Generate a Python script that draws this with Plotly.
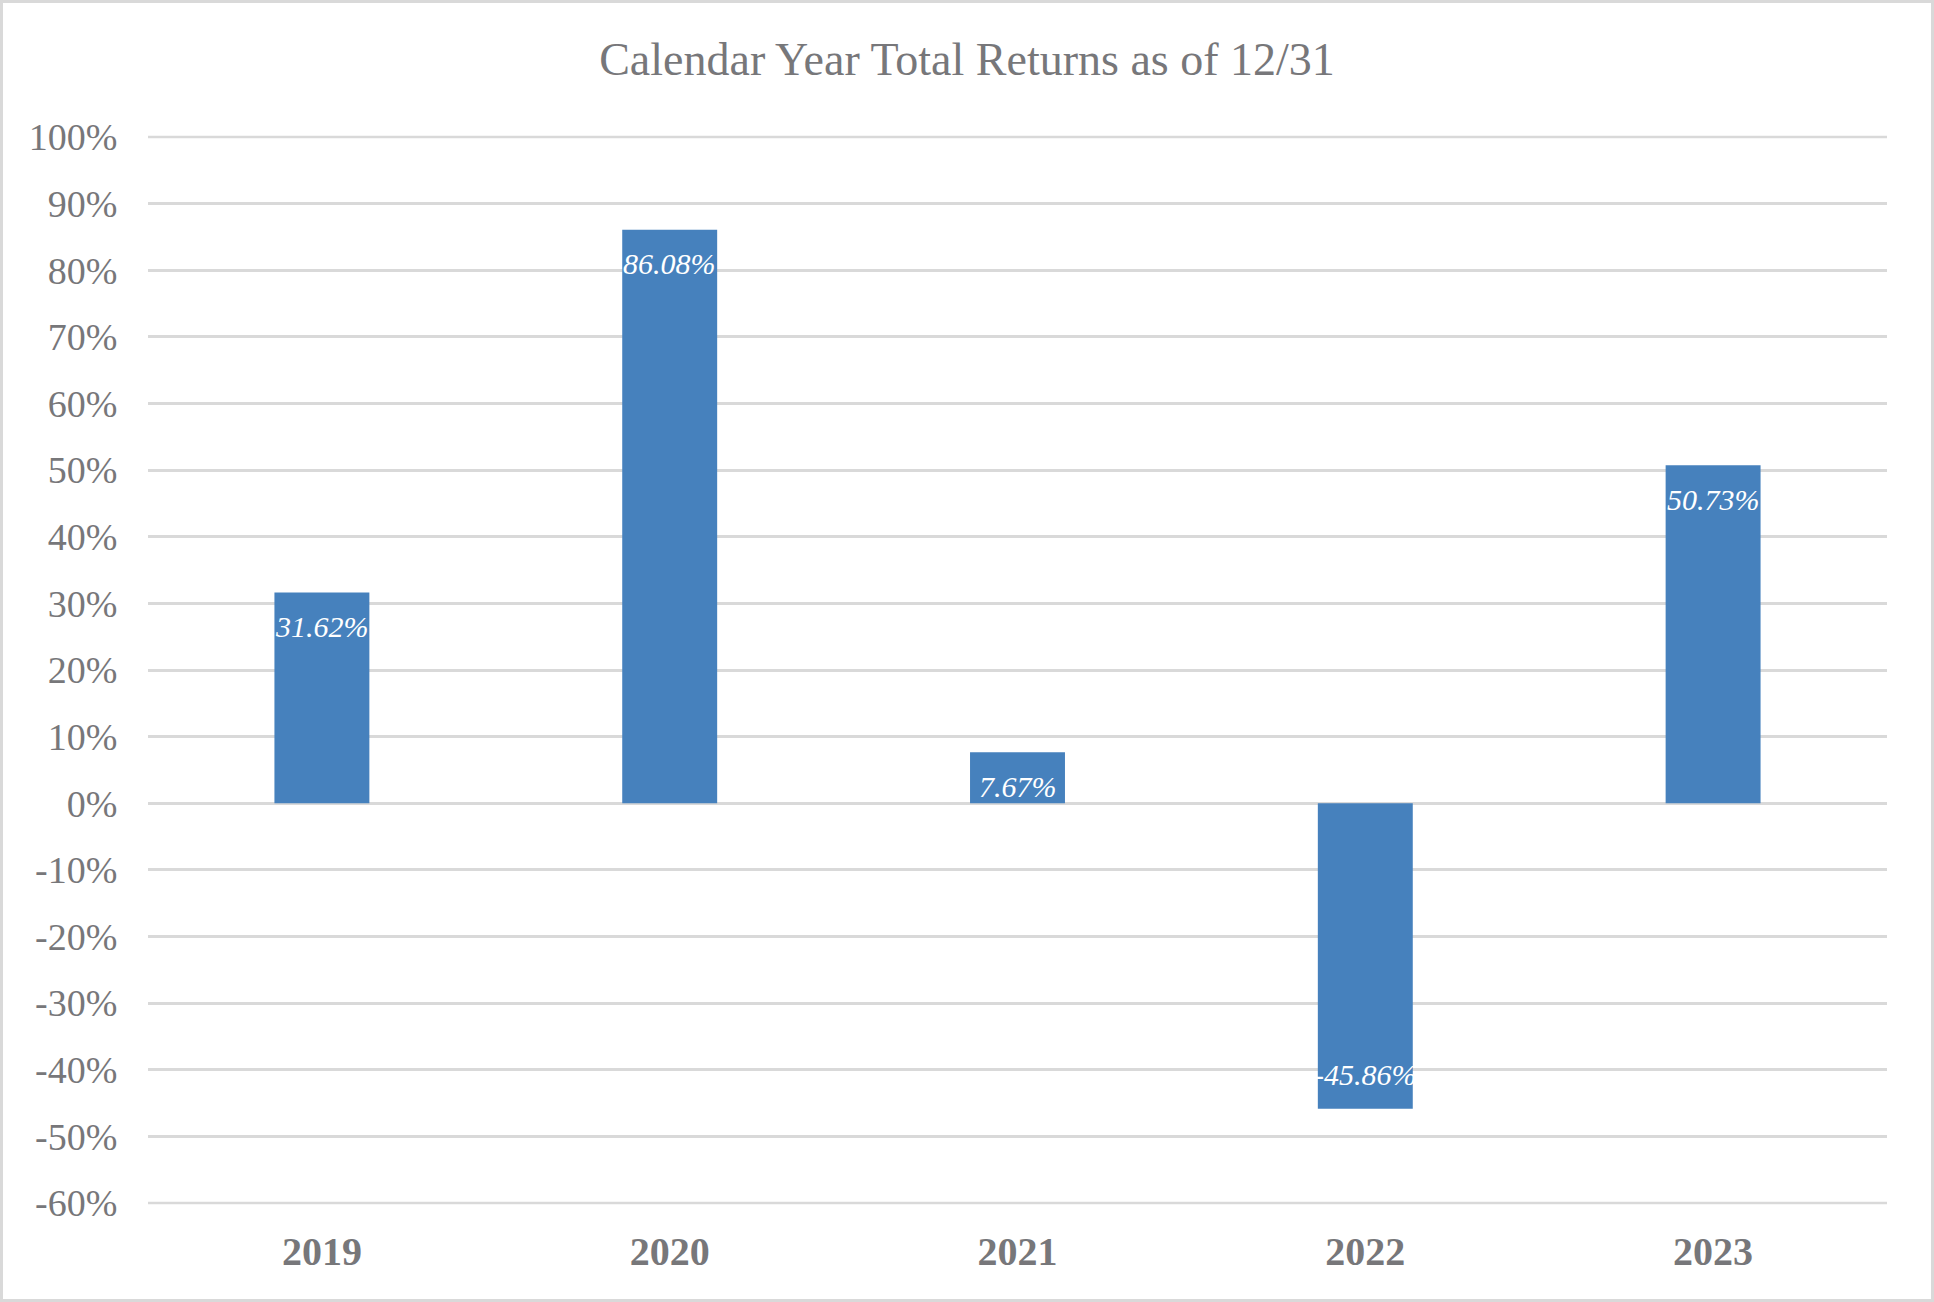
import plotly.graph_objects as go

years = ["2019", "2020", "2021", "2022", "2023"]
returns = [31.62, 86.08, 7.67, -45.86, 50.73]
y_tick_vals = [-60, -50, -40, -30, -20, -10, 0, 10, 20, 30, 40, 50, 60, 70, 80, 90, 100]
y_tick_text = ["-60%", "-50%", "-40%", "-30%", "-20%", "-10%", "0%", "10%", "20%", "30%",
               "40%", "50%", "60%", "70%", "80%", "90%", "100%"]
bar_labels = ["31.62%", "86.08%", "7.67%", "-45.86%", "50.73%"]
title_text = "Calendar Year Total Returns as of 12/31"

W, H = 1934, 1302
ML, MR, MT, MB = 148, 47, 137, 99
PW, PH = W - ML - MR, H - MT - MB

TEXT = "#77777A"
GRID = "#D9D9D9"
BAR = "#4681BD"
FONT = "Liberation Serif, Times New Roman, serif"

x_pos = list(range(len(years)))

fig = go.Figure()
fig.add_trace(go.Bar(
    x=x_pos, y=returns, width=0.273,
    marker=dict(color=BAR, line=dict(width=0)),
    hoverinfo="skip", showlegend=False,
))

annotations = []
for xp, v, lab in zip(x_pos, returns, bar_labels):
    annotations.append(dict(
        x=xp, y=v, xref="x", yref="y", text=lab, showarrow=False,
        yanchor="middle", yshift=-34 if v >= 0 else 34,
        font=dict(family=FONT, size=30, color="white", style="italic"),
    ))

# figure border
shapes = [dict(
    type="rect", xref="paper", yref="paper",
    x0=(1.5 - ML) / PW, x1=(W - 1.5 - ML) / PW,
    y0=(H - MB - (H - 1.5)) / PH, y1=(H - MB - 1.5) / PH,
    line=dict(color=GRID, width=3), fillcolor="rgba(0,0,0,0)", layer="below",
)]
# gridlines at the range edges (plotly skips them); paper-referenced so they are not clipped
for yp in (0, 1):
    shapes.append(dict(
        type="line", xref="paper", yref="paper", x0=0, x1=1, y0=yp, y1=yp,
        line=dict(color=GRID, width=2.5), layer="below",
    ))

fig.update_layout(
    width=W, height=H,
    margin=dict(l=ML, r=MR, t=MT, b=MB, pad=0),
    paper_bgcolor="white", plot_bgcolor="white",
    title=dict(text=title_text, x=0.5, xanchor="center", xref="container",
               y=1 - 59 / H, yanchor="middle", yref="container",
               font=dict(family=FONT, size=46, color=TEXT)),
    xaxis=dict(
        range=[-0.5, len(years) - 0.5], tickvals=x_pos, ticktext=years,
        showgrid=False, zeroline=False, showline=False,
        ticks="outside", ticklen=13, tickcolor="rgba(0,0,0,0)",
        tickfont=dict(family=FONT, size=40, color=TEXT, weight="bold"),
    ),
    yaxis=dict(
        range=[y_tick_vals[0], y_tick_vals[-1]], tickvals=y_tick_vals, ticktext=y_tick_text,
        showgrid=True, gridcolor=GRID, gridwidth=2.5,
        zeroline=True, zerolinecolor=GRID, zerolinewidth=2.5,
        showline=False, ticks="outside", ticklen=22, tickcolor="rgba(0,0,0,0)",
        tickfont=dict(family=FONT, size=38, color=TEXT),
    ),
    annotations=annotations,
    shapes=shapes,
)

fig.write_html("out.html", config={"displayModeBar": False},
               post_script="document.body.style.margin='0';document.body.style.overflow='hidden';")
